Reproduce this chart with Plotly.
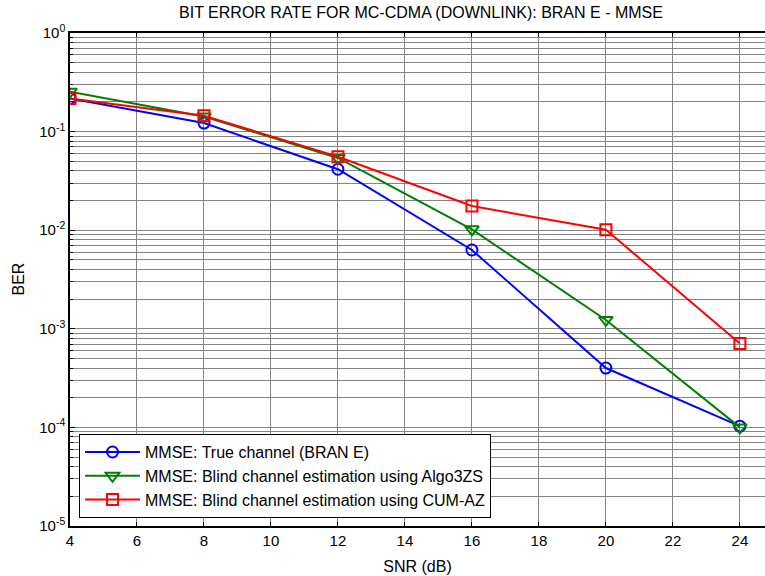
import plotly.graph_objects as go

# SNR points (dB) and bit error rates for each receiver
snr = [4, 8, 12, 16, 20, 24]
ber_true = [0.217, 0.122, 0.0415, 0.0063, 4.0e-4, 1.03e-4]
ber_algo3zs = [0.254, 0.142, 0.054, 0.0102, 1.23e-3, 1.0e-4]
ber_cumaz = [0.217, 0.145, 0.0556, 0.0176, 0.0101, 7.1e-4]

series_names = [
    "MMSE: True channel (BRAN E)",
    "MMSE: Blind channel estimation using Algo3ZS",
    "MMSE: Blind channel estimation using CUM-AZ",
]
x_ticks = [4, 6, 8, 10, 12, 14, 16, 18, 20, 22, 24]
y_tickvals = [1e-5, 1e-4, 1e-3, 1e-2, 1e-1, 1e0]
y_ticktext = ["10<sup>-5</sup>", "10<sup>-4</sup>", "10<sup>-3</sup>",
              "10<sup>-2</sup>", "10<sup>-1</sup>", "10<sup>0</sup>"]

FONT = "Liberation Sans, Arial, sans-serif"
GRID = "#858585"
PLOT_W = 695  # plot area width in px (765 - left margin)

fig = go.Figure()
styles = [
    ("#0000ff", "circle-open", ber_true, 11),
    ("#008000", "triangle-down-open", ber_algo3zs, 12),
    ("#ff0000", "square-open", ber_cumaz, 11),
]
for name, (color, symbol, vals, msize) in zip(series_names, styles):
    fig.add_trace(go.Scatter(
        x=snr, y=vals, name=name, mode="lines+markers",
        line=dict(color=color, width=2),
        marker=dict(symbol=symbol, size=msize, color=color,
                    line=dict(color=color, width=2)),
    ))

fig.update_layout(
    width=765, height=576,
    margin=dict(l=70, r=0, t=33, b=50),
    paper_bgcolor="white", plot_bgcolor="white",
    font=dict(family=FONT, size=16, color="black"),
    title=dict(text="BIT ERROR RATE FOR MC-CDMA (DOWNLINK): BRAN E - MMSE",
               x=(421 - 70) / PLOT_W, xref="paper", xanchor="center",
               y=1 - 12 / 576, yanchor="middle",
               font=dict(family=FONT, size=16, color="black")),
    showlegend=True,
    legend=dict(x=0.013, y=0.016, xanchor="left", yanchor="bottom",
                bgcolor="white", bordercolor="black", borderwidth=1,
                font=dict(family=FONT, size=16, color="black"),
                tracegroupgap=0, itemwidth=55),
    annotations=[dict(text="BER", textangle=-90, showarrow=False,
                      xref="paper", yref="paper",
                      x=(18 - 70) / PLOT_W, y=0.5,
                      xanchor="center", yanchor="middle",
                      font=dict(family=FONT, size=16, color="black"))],
)

fig.update_xaxes(
    range=[4, 24.75], tickvals=x_ticks, ticks="inside", ticklen=4,
    tickcolor="black", showline=True, linecolor="black", linewidth=1.5,
    mirror="ticks", showgrid=True, gridcolor=GRID, gridwidth=1,
    zeroline=False,
    title=dict(text="SNR (dB)", standoff=13, font=dict(family=FONT, size=16)),
    tickfont=dict(family=FONT, size=15),
)
fig.update_yaxes(
    type="log", range=[-5, 0], tickvals=y_tickvals, ticktext=y_ticktext,
    ticks="inside", ticklen=5, tickcolor="black",
    showline=True, linecolor="black", linewidth=1.5, mirror=False,
    showgrid=True, gridcolor=GRID, gridwidth=1, zeroline=False,
    minor=dict(dtick="D1", ticks="inside", ticklen=3, tickcolor="black",
               showgrid=True, gridcolor=GRID, gridwidth=1),
    tickfont=dict(family=FONT, size=15),
)

fig.write_html("out.html")
